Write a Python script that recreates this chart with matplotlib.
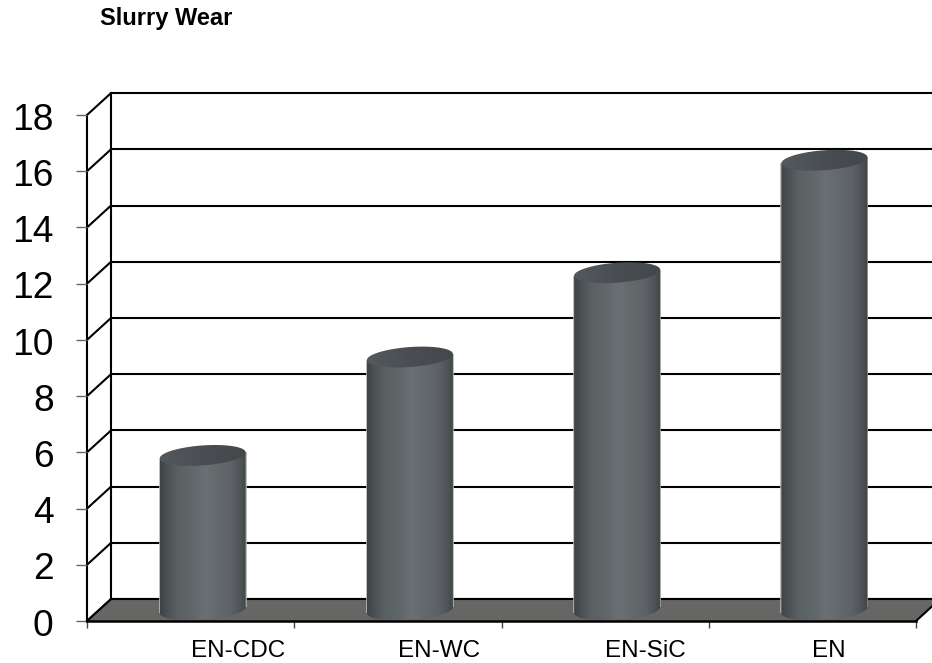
import numpy as np
import matplotlib
matplotlib.use("Agg")
import matplotlib.pyplot as plt
from matplotlib.colors import LinearSegmentedColormap
from matplotlib.patches import PathPatch, Polygon
from matplotlib.path import Path
from matplotlib.transforms import ScaledTranslation

plt.rcParams["font.family"] = ["Liberation Sans", "DejaVu Sans"]

# Wear values per coating
categories = ["EN-CDC", "EN-WC", "EN-SiC", "EN"]
wear = [5.5, 9, 12, 16]
y_ticks = [0, 2, 4, 6, 8, 10, 12, 14, 16, 18]

W, H = 932, 663
LEFT, RIGHT, BOTTOM, TOP = 87, 916, 621, 115

fig = plt.figure(figsize=(W / 100, H / 100), dpi=100, facecolor="white")
ax = fig.add_axes([LEFT / W, 1 - BOTTOM / H, (RIGHT - LEFT) / W, (BOTTOM - TOP) / H])
ax.patch.set_visible(False)
for s in ax.spines.values():
    s.set_visible(False)

# Oblique depth of the box and cylinder proportions, in data units
DX, DY = 0.116, 0.78
HALF_W, TILT, MINOR = 0.2075, 0.107, 0.356
LW = 1.5

body_cmap = LinearSegmentedColormap.from_list(
    "body", [(0, "#3f4346"), (0.08, "#4b5053"), (0.2, "#5a6063"), (0.4, "#62696a"),
             (0.52, "#6a6f76"), (0.66, "#636a6b"), (0.82, "#5e6268"), (0.93, "#4e5356"),
             (1, "#404447")])
cap_cmap = LinearSegmentedColormap.from_list("cap", ["#54595d", "#4a4e52", "#44484b"])
grad = np.linspace(0, 1, 256).reshape(1, -1)

# Back wall, side wall and floor
for v in y_ticks:
    ax.plot([0, DX], [v, v + DY], color="black", lw=LW, clip_on=False, zorder=1,
            solid_capstyle="round")
    ax.plot([DX, 4 + DX], [v + DY, v + DY], color="black", lw=LW, clip_on=False, zorder=1)
ax.plot([0, 0], [0, 18], color="black", lw=LW, clip_on=False, zorder=1)
ax.plot([DX, DX], [DY, 18 + DY], color="black", lw=LW, clip_on=False, zorder=1)
ax.add_patch(Polygon([(0, 0), (4, 0), (4 + DX, DY), (DX, DY)], closed=True,
                     facecolor="#666664", edgecolor="none", clip_on=False, zorder=2))
ax.plot([DX, 4 + DX], [DY, DY], color="black", lw=LW, clip_on=False, zorder=2)
ax.plot([0, DX], [0, DY], color="black", lw=LW, clip_on=False, zorder=2)
ax.plot([4, 4 + DX], [0, DY], color="black", lw=LW, clip_on=False, zorder=2)

# Cylinders: tilted ellipse outlines, filled with a horizontal shading
t = np.linspace(0, 2 * np.pi, 181)
lower_t = np.linspace(np.pi, 2 * np.pi, 91)
for i, v in enumerate(wear):
    cx = i + 0.5 + DX / 2
    y0 = DY / 2
    y1 = y0 + v
    ex = cx + HALF_W * np.cos(t)
    offs = TILT * np.cos(t) + MINOR * np.sin(t)
    bx = cx + HALF_W * np.cos(lower_t)
    by = y0 + TILT * np.cos(lower_t) + MINOR * np.sin(lower_t)
    body_xy = np.vstack([np.column_stack([bx, by]),
                         [[cx + HALF_W, y1 + TILT], [cx, y1], [cx - HALF_W, y1 - TILT],
                          [bx[0], by[0]]]])
    # Pale rim along the cylinder sides
    for sx, tilt in ((cx - HALF_W, -TILT), (cx + HALF_W, TILT)):
        ax.plot([sx, sx], [y0 + tilt, y1 + tilt], color="#b4b4b4", lw=1.2, zorder=2.5,
                solid_capstyle="butt")
    extent = [cx - HALF_W, cx + HALF_W, 0, y1 + 2]
    im = ax.imshow(grad, cmap=body_cmap, extent=extent, aspect="auto", zorder=3)
    im.set_clip_path(PathPatch(Path(body_xy), transform=ax.transData))
    cap = ax.imshow(grad, cmap=cap_cmap, extent=[cx - HALF_W, cx + HALF_W, y1 - 2, y1 + 2],
                    aspect="auto", zorder=4)
    cap.set_clip_path(PathPatch(Path(np.column_stack([ex, y1 + offs])), transform=ax.transData))

ax.plot([0, 4], [0, 0], color="black", lw=LW + 0.3, clip_on=False, zorder=5)

ax.set_xlim(0, 4)
ax.set_ylim(0, 18)

ax.set_yticks(y_ticks)
ax.set_yticklabels([str(v) for v in y_ticks], fontsize=26.7)
ax.tick_params(axis="y", length=8, width=1.0, color="#666666", pad=16)
# Nudge the value labels down slightly
nudge = ScaledTranslation(0, -1.2 / 100, fig.dpi_scale_trans)
for lab in ax.get_yticklabels():
    lab.set_transform(lab.get_transform() + nudge)
ax.set_xticks(range(5))
ax.set_xticklabels([])
ax.tick_params(axis="x", which="major", length=5, width=1.0, color="#444444")
ax.set_xticks(np.arange(len(categories)) + 0.5, minor=True)
ax.set_xticklabels(categories, minor=True, fontsize=17.5, ha="left")
ax.tick_params(axis="x", which="minor", length=0, pad=13.5)

fig.text(100 / W, 1 - 25 / H, "Slurry Wear", fontsize=17, fontweight="bold",
         ha="left", va="baseline", color="black")

fig.savefig("out.png", dpi=100, facecolor="white")
